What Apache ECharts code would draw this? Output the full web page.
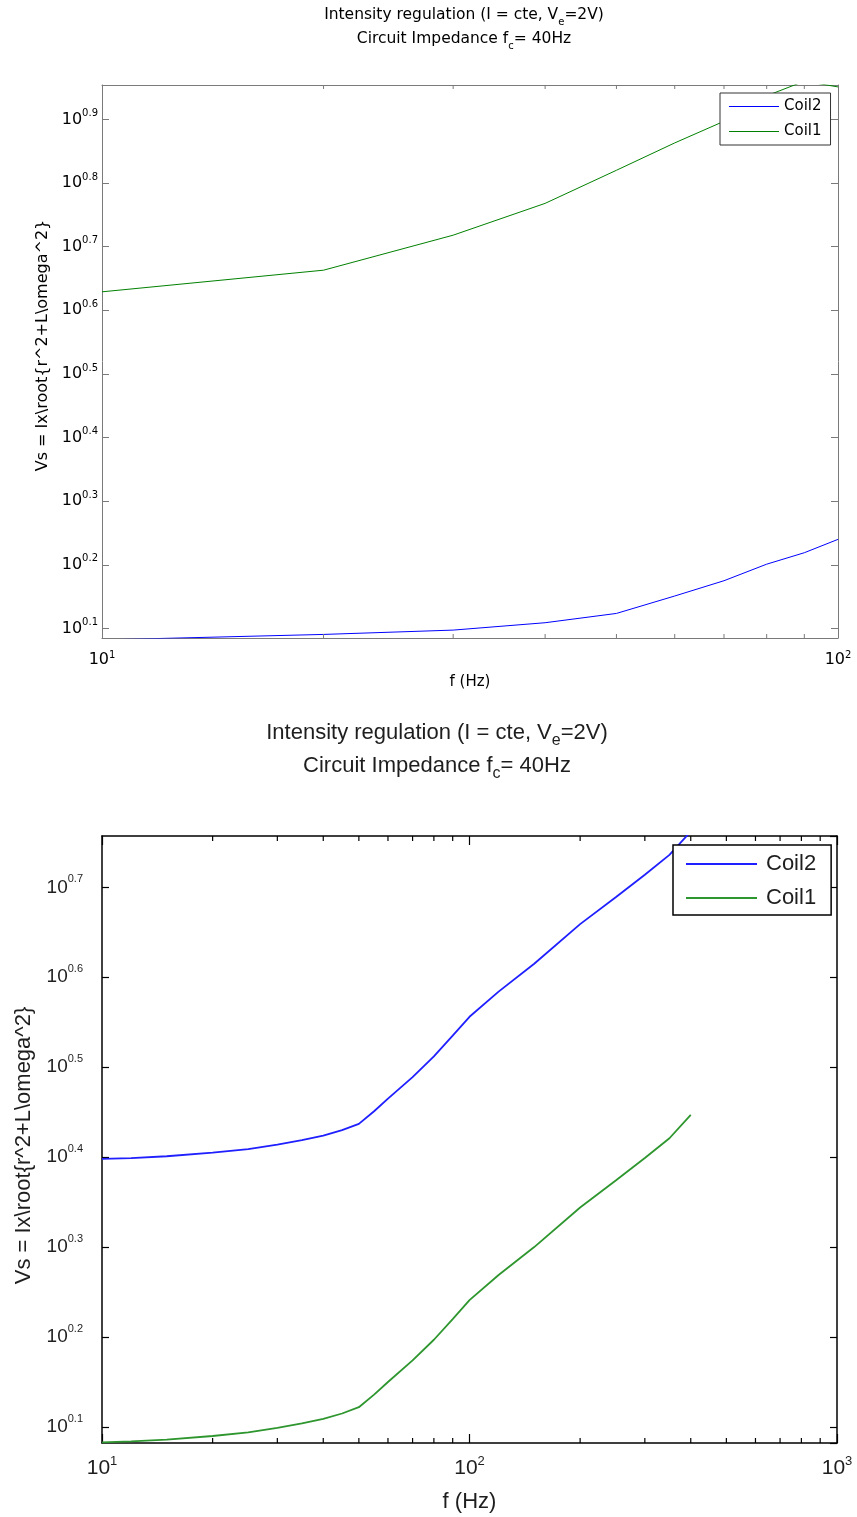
<!DOCTYPE html>
<html><head><meta charset="utf-8">
<script src="https://cdn.jsdelivr.net/npm/echarts@6/dist/echarts.min.js"></script>
<style>html,body{margin:0;padding:0;background:#fff}#c{width:857px;height:1517px}</style>
</head><body><div id="c"></div>
<script>
const FONT_TOP = '"DejaVu Sans", "Liberation Sans", Arial, sans-serif';
const FONT_BOT = '"Liberation Sans", Arial, Helvetica, sans-serif';

// ---- Top chart (f = 10..100 Hz); y values are log10(Vs) as read on the 10^x axis
const freqTop = [10, 20, 30, 40, 50, 60, 70, 80, 90, 100];
const coil2TopLog = [0.082, 0.0906, 0.0974, 0.109, 0.1236, 0.151, 0.175, 0.201, 0.219, 0.240];
const coil1TopLog = [0.629, 0.663, 0.718, 0.768, 0.820, 0.863, 0.897, 0.937, 0.960, 0.951];

// ---- Bottom chart (f = 10..1000 Hz)
const freqBottom = [10, 12, 15, 20, 25, 30, 35, 40, 45, 50, 55, 60, 70, 80, 90, 100, 120, 150, 200, 250, 300, 350, 400];
const coil2BottomLog = [0.398, 0.399, 0.401, 0.405, 0.409, 0.414, 0.419, 0.424, 0.430, 0.437, 0.451, 0.465, 0.489, 0.512, 0.535, 0.556, 0.584, 0.615, 0.659, 0.689, 0.714, 0.736, 0.762];
const coil1BottomLog = [0.083, 0.084, 0.086, 0.090, 0.094, 0.099, 0.104, 0.109, 0.115, 0.122, 0.136, 0.150, 0.174, 0.197, 0.220, 0.241, 0.269, 0.300, 0.344, 0.374, 0.399, 0.421, 0.447];

// minor tick frequencies on the log x axes
const minorTop = [20, 30, 40, 50, 60, 70, 80, 90];
const minorBottom = [20, 30, 40, 50, 60, 70, 80, 90, 200, 300, 400, 500, 600, 700, 800, 900];

const titleLine1 = 'Intensity regulation (I = cte, V{sub|e}=2V)';
const titleLine2 = 'Circuit Impedance f{sub|c}= 40Hz';
const yName = 'Vs = Ix\\root{r^2+L\\omega^2}';
const xName = 'f (Hz)';

const TOP = {ymin: 0.085, ymax: 0.954};
const BOT = {ymin: 0.0822, ymax: 0.757};

function pairs(xs, ys) { return xs.map((x, i) => [x, ys[i]]); }
function yLabel(v) { return '10{sup|' + v.toFixed(1) + '}'; }
function xLabel(v) { return '10{sup|' + Math.round(Math.log10(v)) + '}'; }

function tickSeries(xi, yi, freqs, ymin, len, color, w) {
  return {
    type: 'custom', xAxisIndex: xi, yAxisIndex: yi, silent: true, z: 5,
    data: freqs.map(f => [f, ymin]),
    encode: {x: 0, y: 1},
    renderItem: function (params, api) {
      const x = api.coord([api.value(0), api.value(1)])[0];
      const cs = params.coordSys;
      const st = {stroke: color, lineWidth: w};
      return {type: 'group', children: [
        {type: 'line', shape: {x1: x, y1: cs.y + cs.height, x2: x, y2: cs.y + cs.height - len}, style: st},
        {type: 'line', shape: {x1: x, y1: cs.y, x2: x, y2: cs.y + len}, style: st}
      ]};
    }
  };
}

const topAxisColor = '#7a7a7a';
const botAxisColor = '#000';
const topText = '#000';
const botText = '#1e1e1e';

const option = {
  backgroundColor: '#fff',
  animation: false,
  textStyle: {fontFamily: FONT_TOP},
  title: [
    {
      text: titleLine1 + '\n' + titleLine2,
      left: 464, top: 3, textAlign: 'center', padding: 0,
      textStyle: {fontFamily: FONT_TOP, fontSize: 15.5, fontWeight: 'normal', color: topText, lineHeight: 24,
        rich: {sub: {fontFamily: FONT_TOP, fontSize: 10, lineHeight: 10, verticalAlign: 'bottom', color: topText}}}
    },
    {
      text: titleLine1 + '\n' + titleLine2,
      left: 437, top: 716, textAlign: 'center', padding: 0,
      textStyle: {fontFamily: FONT_BOT, fontSize: 22, fontWeight: 'normal', color: botText, lineHeight: 33,
        rich: {sub: {fontFamily: FONT_BOT, fontSize: 16, lineHeight: 14, verticalAlign: 'bottom', color: botText}}}
    }
  ],
  legend: [
    {
      data: [{name: 'Coil2', icon: 'rect'}, {name: 'Coil1', icon: 'rect'}],
      orient: 'vertical', left: 720, top: 93,
      padding: [6, 9, 6, 9], itemWidth: 50, itemHeight: 1, itemGap: 10,
      borderColor: '#333', borderWidth: 1, backgroundColor: '#fff',
      textStyle: {fontFamily: FONT_TOP, fontSize: 15, lineHeight: 14, color: '#000'}
    },
    {
      data: [{name: 'Coil2_b', icon: 'rect'}, {name: 'Coil1_b', icon: 'rect'}],
      orient: 'vertical', left: 673, top: 845,
      padding: [8, 15, 6, 13], itemWidth: 71, itemHeight: 2, itemGap: 12,
      borderColor: '#000', borderWidth: 1.5, backgroundColor: '#fff',
      formatter: n => n.replace('_b', ''),
      textStyle: {fontFamily: FONT_BOT, fontSize: 22, lineHeight: 20, color: botText, padding: [0, 0, 0, 4]}
    }
  ],
  grid: [
    {left: 102, top: 85, width: 736, height: 553, containLabel: false},
    {left: 102, top: 836, width: 735, height: 607, containLabel: false}
  ],
  xAxis: [
    {
      type: 'log', logBase: 10, gridIndex: 0, min: 10, max: 100, position: 'bottom',
      axisLine: {lineStyle: {color: topAxisColor, width: 1}},
      axisTick: {inside: true, length: 5, lineStyle: {color: topAxisColor}},
      splitLine: {show: false}, minorTick: {show: false},
      axisLabel: {formatter: xLabel, margin: 12, color: topText, fontFamily: FONT_TOP, fontSize: 16, lineHeight: 20,
        rich: {sup: {fontFamily: FONT_TOP, fontSize: 10, lineHeight: 10, verticalAlign: 'top', color: topText}}},
      name: xName, nameLocation: 'middle', nameGap: 37,
      nameTextStyle: {fontFamily: FONT_TOP, fontSize: 15, color: topText}
    },
    {
      type: 'log', logBase: 10, gridIndex: 0, min: 10, max: 100, position: 'top',
      axisLine: {lineStyle: {color: topAxisColor, width: 1}},
      axisTick: {inside: true, length: 5, lineStyle: {color: topAxisColor}},
      splitLine: {show: false}, axisLabel: {show: false}
    },
    {
      type: 'log', logBase: 10, gridIndex: 1, min: 10, max: 1000, position: 'bottom',
      axisLine: {lineStyle: {color: botAxisColor, width: 1.5}},
      axisTick: {inside: true, length: 9, lineStyle: {color: botAxisColor, width: 1.2}},
      splitLine: {show: false}, minorTick: {show: false},
      axisLabel: {formatter: xLabel, margin: 12, color: botText, fontFamily: FONT_BOT, fontSize: 21, lineHeight: 26,
        rich: {sup: {fontFamily: FONT_BOT, fontSize: 13, lineHeight: 13, verticalAlign: 'top', color: botText}}},
      name: xName, nameLocation: 'middle', nameGap: 48,
      nameTextStyle: {fontFamily: FONT_BOT, fontSize: 22, color: botText}
    },
    {
      type: 'log', logBase: 10, gridIndex: 1, min: 10, max: 1000, position: 'top',
      axisLine: {lineStyle: {color: botAxisColor, width: 1.5}},
      axisTick: {inside: true, length: 9, lineStyle: {color: botAxisColor, width: 1.2}},
      splitLine: {show: false}, axisLabel: {show: false}
    }
  ],
  yAxis: [
    {
      type: 'value', gridIndex: 0, min: TOP.ymin, max: TOP.ymax, splitNumber: 9, position: 'left',
      axisLine: {show: true, lineStyle: {color: topAxisColor, width: 1}},
      axisTick: {inside: true, length: 7, lineStyle: {color: topAxisColor}},
      splitLine: {show: false},
      axisLabel: {formatter: yLabel, margin: 4, showMinLabel: false, showMaxLabel: false,
        color: topText, fontFamily: FONT_TOP, fontSize: 16, lineHeight: 22,
        rich: {sup: {fontFamily: FONT_TOP, fontSize: 10, lineHeight: 10, verticalAlign: 'top', color: topText}}},
      name: yName, nameLocation: 'middle', nameGap: 44, nameRotate: 90,
      nameTextStyle: {fontFamily: FONT_TOP, fontSize: 16, color: topText, padding: [0, 0, 0, 32]}
    },
    {
      type: 'value', gridIndex: 0, min: TOP.ymin, max: TOP.ymax, splitNumber: 9, position: 'right',
      axisLine: {show: true, lineStyle: {color: topAxisColor, width: 1}},
      axisTick: {inside: true, length: 7, lineStyle: {color: topAxisColor}},
      splitLine: {show: false}, axisLabel: {show: false}
    },
    {
      type: 'value', gridIndex: 1, min: BOT.ymin, max: BOT.ymax, splitNumber: 7, position: 'left',
      axisLine: {show: true, lineStyle: {color: botAxisColor, width: 1.5}},
      axisTick: {inside: true, length: 7, lineStyle: {color: botAxisColor, width: 1.2}},
      splitLine: {show: false},
      axisLabel: {formatter: yLabel, margin: 19, showMinLabel: false, showMaxLabel: false,
        color: botText, fontFamily: FONT_BOT, fontSize: 19, lineHeight: 28,
        rich: {sup: {fontFamily: FONT_BOT, fontSize: 11, lineHeight: 12, verticalAlign: 'top', color: botText}}},
      name: yName, nameLocation: 'middle', nameGap: 67, nameRotate: 90,
      nameTextStyle: {fontFamily: FONT_BOT, fontSize: 22, color: botText, padding: [0, 12, 0, 0]}
    },
    {
      type: 'value', gridIndex: 1, min: BOT.ymin, max: BOT.ymax, splitNumber: 7, position: 'right',
      axisLine: {show: true, lineStyle: {color: botAxisColor, width: 1.5}},
      axisTick: {inside: true, length: 7, lineStyle: {color: botAxisColor, width: 1.2}},
      splitLine: {show: false}, axisLabel: {show: false}
    }
  ],
  series: [
    {name: 'Coil2', type: 'line', xAxisIndex: 0, yAxisIndex: 0, data: pairs(freqTop, coil2TopLog),
      symbol: 'none', clip: true, color: '#0000ff', lineStyle: {color: '#0000ff', width: 1}},
    {name: 'Coil1', type: 'line', xAxisIndex: 0, yAxisIndex: 0, data: pairs(freqTop, coil1TopLog),
      symbol: 'none', clip: true, color: '#008000', lineStyle: {color: '#008000', width: 1}},
    {name: 'Coil2_b', type: 'line', xAxisIndex: 2, yAxisIndex: 2, data: pairs(freqBottom, coil2BottomLog),
      symbol: 'none', clip: true, color: '#1f1fff', lineStyle: {color: '#1f1fff', width: 1.8}},
    {name: 'Coil1_b', type: 'line', xAxisIndex: 2, yAxisIndex: 2, data: pairs(freqBottom, coil1BottomLog),
      symbol: 'none', clip: true, color: '#2e962e', lineStyle: {color: '#2e962e', width: 1.8}},
    tickSeries(0, 0, minorTop, TOP.ymin, 4, topAxisColor, 1),
    tickSeries(2, 2, minorBottom, BOT.ymin, 5, botAxisColor, 1.2)
  ]
};

const chart = echarts.init(document.getElementById('c'));
chart.setOption(option);
</script>
</body></html>
